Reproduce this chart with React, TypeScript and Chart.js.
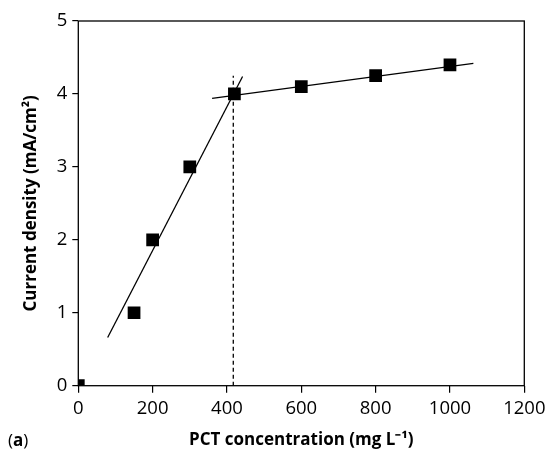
import { useEffect, useRef } from 'react'
import Chart from 'chart.js/auto'

// measured points
const concentration = [0, 150, 200, 300, 420, 600, 800, 1000]
const currentDensity = [0, 1, 2, 3, 4, 4.1, 4.25, 4.4]

// fitted lines (end points)
const steepFitX = [79, 442]
const steepFitY = [0.66, 4.24]
const plateauFitX = [360, 1063]
const plateauFitY = [3.94, 4.42]
const breakX = [417, 417]
const breakY = [0, 4.25]

const xMin = 0
const xMax = 1200
const xStep = 200
const yMin = 0
const yMax = 5
const yStep = 1

const FONT = "'Open Sans', sans-serif"

const toPoints = (xs: number[], ys: number[]) => xs.map((x, i) => ({ x, y: ys[i] }))

export default function App() {
  const canvasRef = useRef<HTMLCanvasElement>(null)
  const chartRef = useRef<Chart | null>(null)

  useEffect(() => {
    if (!canvasRef.current) return
    if (chartRef.current) chartRef.current.destroy()

    const lineDs = (label: string, xs: number[], ys: number[], dash: number[] = []) => ({
      label,
      data: toPoints(xs, ys),
      showLine: true,
      borderColor: '#000',
      borderWidth: 1.3,
      borderDash: dash,
      pointRadius: 0,
      pointHoverRadius: 0,
    })

    chartRef.current = new Chart(canvasRef.current, {
      type: 'scatter',
      data: {
        datasets: [
          lineDs('Linear fit (low)', steepFitX, steepFitY),
          lineDs('Linear fit (high)', plateauFitX, plateauFitY),
          lineDs('Break point', breakX, breakY, [4, 3]),
          {
            label: 'Current density',
            data: toPoints(concentration, currentDensity),
            pointStyle: 'rect',
            pointRadius: 9,
            pointHoverRadius: 9,
            backgroundColor: '#000',
            borderColor: '#000',
            borderWidth: 0,
          },
        ],
      },
      options: {
        animation: false,
        responsive: true,
        maintainAspectRatio: false,
        layout: { padding: { top: 21, right: 22.7, left: 0, bottom: 0 } },
        plugins: {
          legend: { display: false },
          tooltip: { enabled: false },
        },
        scales: {
          x: {
            type: 'linear',
            min: xMin,
            max: xMax,
            ticks: {
              stepSize: xStep,
              color: '#000',
              font: { family: FONT, size: 18.5 },
              padding: 5,
              callback: (v) => String(v),
            },
            grid: { drawOnChartArea: false, drawTicks: true, tickLength: 7, color: '#000', lineWidth: 1.2 },
            border: { display: false },
            title: {
              display: true,
              text: 'PCT concentration (mg L⁻¹)',
              color: '#000',
              font: { family: FONT, size: 17, weight: 'bold' },
              padding: { top: 0, bottom: 0 },
            },
            afterFit: (scale) => {
              scale.height = 64.3
              scale.paddingLeft = 0
              scale.paddingRight = 0
            },
          },
          y: {
            type: 'linear',
            min: yMin,
            max: yMax,
            ticks: {
              stepSize: yStep,
              color: '#000',
              font: { family: FONT, size: 18.5 },
              padding: 5,
              callback: (v) => String(v),
            },
            grid: { drawOnChartArea: false, drawTicks: true, tickLength: 6, color: '#000', lineWidth: 1.2 },
            border: { display: false },
            title: {
              display: true,
              text: 'Current density (mA/cm²)',
              color: '#000',
              font: { family: FONT, size: 17, weight: 'bold' },
              padding: { top: 21, bottom: 0 },
            },
            afterFit: (scale) => {
              scale.width = 78.3
              scale.paddingTop = 0
              scale.paddingBottom = 0
            },
          },
        },
      },
      plugins: [
        {
          id: 'frameAndPanel',
          afterDraw: (chart) => {
            const { ctx, chartArea } = chart
            ctx.save()
            ctx.strokeStyle = '#000'
            ctx.lineWidth = 1.3
            ctx.strokeRect(chartArea.left, chartArea.top, chartArea.right - chartArea.left, chartArea.bottom - chartArea.top)
            // panel letter
            ctx.fillStyle = '#000'
            ctx.textBaseline = 'alphabetic'
            ctx.textAlign = 'left'
            let x = 8
            const y = 446
            ctx.font = `17px ${FONT}`
            ctx.fillText('(', x, y)
            x += ctx.measureText('(').width
            ctx.font = `bold 17px ${FONT}`
            ctx.fillText('a', x, y)
            x += ctx.measureText('a').width
            ctx.font = `17px ${FONT}`
            ctx.fillText(')', x, y)
            ctx.restore()
          },
        },
      ],
    })

    return () => {
      if (chartRef.current) {
        chartRef.current.destroy()
        chartRef.current = null
      }
    }
  }, [])

  return (
    <div style={{ position: 'fixed', left: 0, top: 0, width: 547, height: 450, background: '#fff' }}>
      <canvas ref={canvasRef} />
    </div>
  )
}
